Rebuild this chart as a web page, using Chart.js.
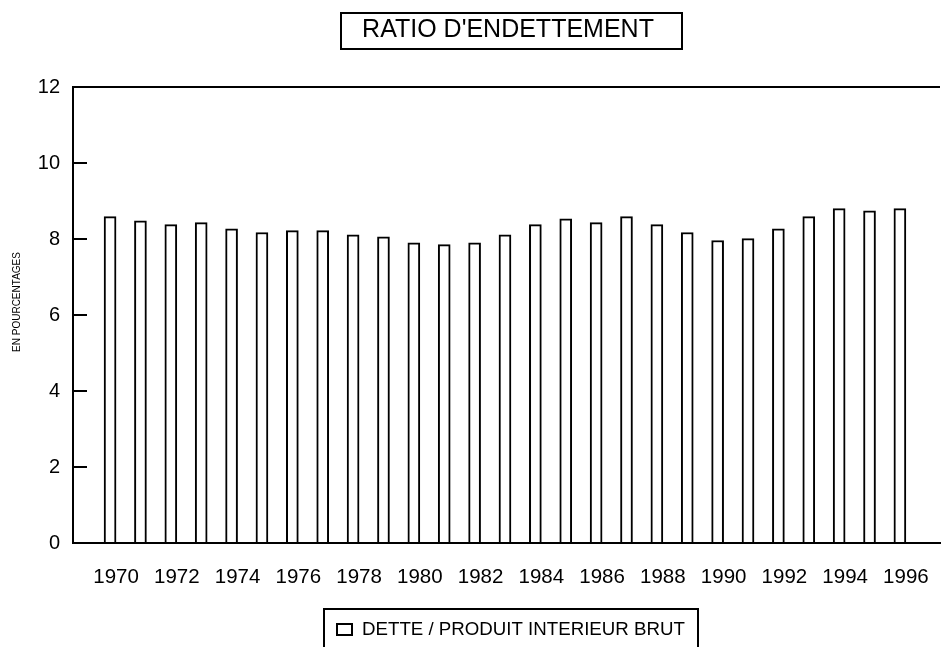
<!DOCTYPE html>
<html>
<head>
<meta charset="utf-8">
<title>Ratio d'endettement</title>
<script src="https://cdn.jsdelivr.net/npm/chart.js@4.4.0/dist/chart.umd.min.js"></script>
<style>
  html, body { margin: 0; padding: 0; background: #fff; }
  canvas { display: block; }
</style>
</head>
<body>
<canvas id="ratio" width="946" height="647"></canvas>
<script>
// data
const years = [1970, 1971, 1972, 1973, 1974, 1975, 1976, 1977, 1978, 1979,
               1980, 1981, 1982, 1983, 1984, 1985, 1986, 1987, 1988, 1989,
               1990, 1991, 1992, 1993, 1994, 1995, 1996];
const ratios = [8.59, 8.48, 8.38, 8.43, 8.27, 8.17, 8.22, 8.22, 8.11, 8.06,
                7.90, 7.85, 7.90, 8.11, 8.38, 8.53, 8.43, 8.59, 8.38, 8.17,
                7.96, 8.01, 8.27, 8.59, 8.80, 8.74, 8.80];
const yMin = 0, yMax = 12, yStep = 2;
const xStep = 2;

const titleText = "RATIO D'ENDETTEMENT";
const seriesLabel = 'DETTE / PRODUIT INTERIEUR BRUT';
const yAxisLabel = 'EN POURCENTAGES';

const family = '"Liberation Sans", Arial, sans-serif';

// title box, legend box and vertical axis caption
const boxedText = {
  id: 'boxedText',
  afterDraw(chart) {
    const ctx = chart.ctx;
    ctx.save();
    ctx.strokeStyle = '#000';
    ctx.fillStyle = '#000';
    ctx.lineWidth = 2;

    ctx.strokeRect(341, 13, 341, 36);
    ctx.font = '25px ' + family;
    ctx.textAlign = 'center';
    ctx.textBaseline = 'middle';
    ctx.fillText(titleText, 508, 30);

    ctx.strokeRect(324, 609, 374, 50);
    ctx.fillStyle = '#fff';
    ctx.fillRect(337, 624, 15, 11);
    ctx.strokeRect(337, 624, 15, 11);
    ctx.fillStyle = '#000';
    ctx.font = '18.7px ' + family;
    ctx.textAlign = 'left';
    ctx.fillText(seriesLabel, 362, 630);

    ctx.translate(17, 302);
    ctx.rotate(-Math.PI / 2);
    ctx.font = '10px ' + family;
    ctx.textAlign = 'center';
    ctx.fillText(yAxisLabel, 0, 0);
    ctx.restore();
  }
};

const ctx = document.getElementById('ratio').getContext('2d');
new Chart(ctx, {
  type: 'bar',
  data: {
    datasets: [{
      label: seriesLabel,
      data: years.map((y, i) => ({ x: y, y: ratios[i] })),
      backgroundColor: '#fff',
      borderColor: '#000',
      borderWidth: 2,
      barThickness: 12
    }]
  },
  options: {
    responsive: false,
    animation: false,
    devicePixelRatio: 1,
    layout: { padding: { top: 87, right: 6, left: 0, bottom: 0 } },
    plugins: {
      legend: { display: false },
      tooltip: { enabled: false }
    },
    scales: {
      x: {
        type: 'linear',
        offset: false,
        min: 1968.78,
        max: 1997.32,
        grid: { drawOnChartArea: false, drawTicks: false, offset: false },
        border: { color: '#000', width: 2 },
        ticks: {
          stepSize: xStep,
          includeBounds: false,
          autoSkip: false,
          maxRotation: 0,
          color: '#000',
          font: { family: family, size: 20.5 },
          padding: 22,
          labelOffset: 6,
          callback: v => String(v)
        },
        afterFit: s => { s.height = 104; }
      },
      y: {
        min: yMin,
        max: yMax,
        ticks: {
          stepSize: yStep,
          color: '#000',
          font: { family: family, size: 20 },
          padding: 27
        },
        grid: {
          color: c => (c.tick && c.tick.value === yMax) ? '#000' : 'rgba(0,0,0,0)',
          lineWidth: 2,
          tickColor: '#000',
          tickWidth: 2,
          tickLength: -14
        },
        border: { color: '#000', width: 2 },
        afterFit: s => { s.width = 73; }
      }
    }
  },
  plugins: [boxedText]
});
</script>
</body>
</html>
